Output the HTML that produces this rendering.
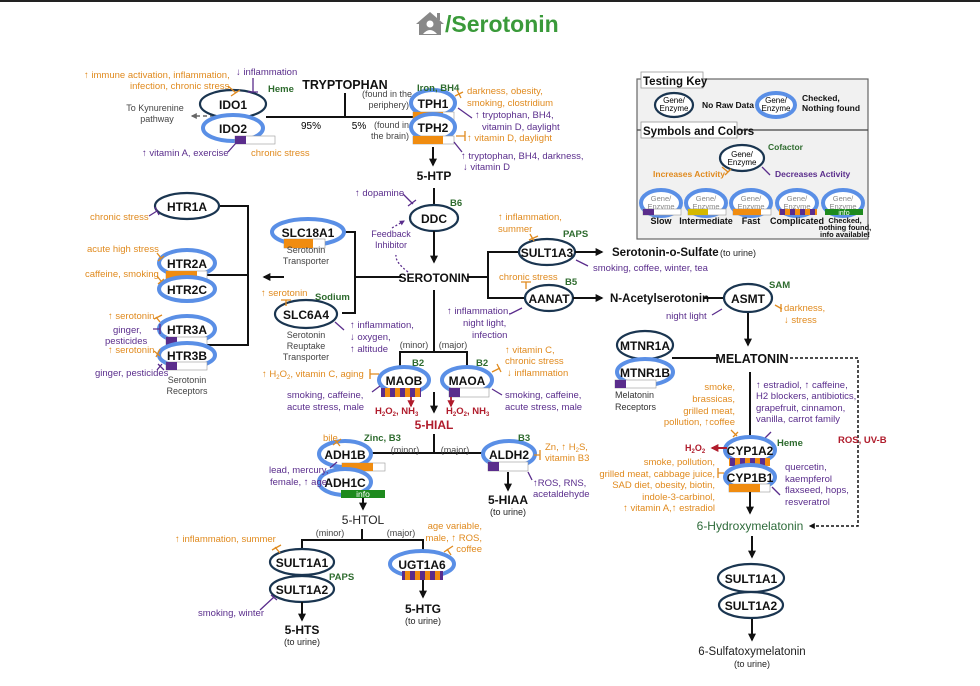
<!DOCTYPE html>
<html><head><meta charset="utf-8"><style>
html,body{margin:0;padding:0;background:#fff}
svg{display:block}
text{font-family:"Liberation Sans",sans-serif}
.n{font-weight:bold;font-size:12px;fill:#111;text-anchor:middle}
.b{font-weight:bold;fill:#111}
.o{fill:#e08a1e;font-size:9.5px}
.p{fill:#5a2d8c;font-size:9.5px}
.g{fill:#2e6b2e;font-size:9.5px;font-weight:bold}
.r{fill:#b01c2c;font-weight:bold}
.s{fill:#444;font-size:9px}
.k{stroke:#1a3550;stroke-width:2.2;fill:#fff}
.u{stroke:#5a8fe6;stroke-width:4;fill:#fff}
.l{stroke:#111;stroke-width:2;fill:none}
.io{stroke:#e08a1e;stroke-width:1.3;fill:none}
.ip{stroke:#5a2d8c;stroke-width:1.3;fill:none}
.m{text-anchor:middle}
.e{text-anchor:end}
</style></head><body>
<svg width="980" height="686" viewBox="0 0 980 686" xmlns="http://www.w3.org/2000/svg">
<defs>
<pattern id="cx" width="10" height="10" patternUnits="userSpaceOnUse"><rect width="5" height="10" fill="#5a2d8c"/><rect x="5" width="5" height="10" fill="#f08c10"/></pattern>
<marker id="a" viewBox="0 0 10 10" refX="8" refY="5" markerWidth="4" markerHeight="4" orient="auto"><path d="M0,0L10,5L0,10z" fill="#111"/></marker>
<marker id="ar" viewBox="0 0 10 10" refX="8" refY="5" markerWidth="4" markerHeight="4" orient="auto"><path d="M0,0L10,5L0,10z" fill="#b01c2c"/></marker>
<marker id="ag" viewBox="0 0 10 10" refX="8" refY="5" markerWidth="4" markerHeight="4" orient="auto"><path d="M0,0L10,5L0,10z" fill="#666"/></marker>
<marker id="ap" viewBox="0 0 10 10" refX="8" refY="5" markerWidth="4" markerHeight="4" orient="auto"><path d="M0,0L10,5L0,10z" fill="#5a2d8c"/></marker>
</defs>
<rect x="0" y="0" width="980" height="2" fill="#222"/>
<!-- title -->
<path d="M416,24 L430,12 L444,24 L441,24 L441,35 L419,35 L419,24Z" fill="#888"/>
<rect x="437" y="13" width="3" height="7" fill="#888"/>
<circle cx="430" cy="24" r="3.5" fill="#fff"/><path d="M423,34 Q430,26 437,34Z" fill="#fff"/>
<text x="445" y="32" style="font-size:23px;font-weight:bold;fill:#3a9a3a">/Serotonin</text>

<!-- Testing key -->
<rect x="637" y="79" width="231" height="160" fill="#f1f1f1" stroke="#666" stroke-width="1.2"/>
<line x1="637" y1="130" x2="868" y2="130" stroke="#444" stroke-width="1.2"/>
<rect x="641" y="72" width="62" height="16" fill="#fff" stroke="#999" stroke-width=".8"/>
<text x="643" y="85" class="b" style="font-size:11.5px">Testing Key</text>
<rect x="641" y="122" width="96" height="16" fill="#fff" stroke="#999" stroke-width=".8"/>
<text x="643" y="135" class="b" style="font-size:11.5px">Symbols and Colors</text>
<ellipse cx="674" cy="105" rx="19" ry="12" class="k" stroke-width="1.8"/>
<text x="674" y="103" class="m" style="font-size:8px">Gene/</text><text x="674" y="111" class="m" style="font-size:8px">Enzyme</text>
<text x="702" y="108" class="b" style="font-size:8.5px">No Raw Data</text>
<ellipse cx="776" cy="105" rx="19" ry="12" class="u" stroke-width="3"/>
<text x="776" y="103" class="m" style="font-size:8px">Gene/</text><text x="776" y="111" class="m" style="font-size:8px">Enzyme</text>
<text x="802" y="101" class="b" style="font-size:8.5px">Checked,</text><text x="802" y="111" class="b" style="font-size:8.5px">Nothing found</text>
<ellipse cx="742" cy="158" rx="22" ry="13" class="k" stroke-width="1.8"/>
<text x="742" y="157" class="m" style="font-size:8px">Gene/</text><text x="742" y="165" class="m" style="font-size:8px">Enzyme</text>
<text x="768" y="150" class="g" style="font-size:8.5px">Cofactor</text>
<path d="M722,167 L728,172 M725,175 L731,169" class="io"/>
<text x="725" y="177" class="e" style="font-size:8.5px;fill:#e08a1e;font-weight:bold">Increases Activity</text>
<path d="M762,167 L770,175" class="ip"/>
<text x="775" y="177" style="font-size:8.5px;fill:#5a2d8c;font-weight:bold">Decreases Activity</text>
<g style="font-size:7.5px;fill:#888">
<ellipse cx="661" cy="203" rx="20" ry="13" class="u" stroke-width="3"/><text x="661" y="201" class="m" fill="#888">Gene/</text><text x="661" y="209" class="m" fill="#888">Enzyme</text>
<ellipse cx="706" cy="203" rx="20" ry="13" class="u" stroke-width="3"/><text x="706" y="201" class="m" fill="#888">Gene/</text><text x="706" y="209" class="m" fill="#888">Enzyme</text>
<ellipse cx="751" cy="203" rx="20" ry="13" class="u" stroke-width="3"/><text x="751" y="201" class="m" fill="#888">Gene/</text><text x="751" y="209" class="m" fill="#888">Enzyme</text>
<ellipse cx="797" cy="203" rx="20" ry="13" class="u" stroke-width="3"/><text x="797" y="201" class="m" fill="#888">Gene/</text><text x="797" y="209" class="m" fill="#888">Enzyme</text>
<ellipse cx="843" cy="203" rx="20" ry="13" class="u" stroke-width="3"/><text x="843" y="201" class="m" fill="#888">Gene/</text><text x="843" y="209" class="m" fill="#888">Enzyme</text>
</g>
<rect x="643" y="209" width="38" height="6" fill="#fff" stroke="#999" stroke-width=".6"/><rect x="643" y="209" width="11" height="6" fill="#5a2d8c"/>
<rect x="688" y="209" width="38" height="6" fill="#fff" stroke="#999" stroke-width=".6"/><rect x="688" y="209" width="20" height="6" fill="#d4b800"/>
<rect x="733" y="209" width="38" height="6" fill="#fff" stroke="#999" stroke-width=".6"/><rect x="733" y="209" width="28" height="6" fill="#f08c10"/>
<rect x="779" y="209" width="38" height="6" fill="url(#cx)"/>
<rect x="825" y="209" width="38" height="6" fill="#1e8a1e"/><text x="844" y="215" class="m" style="font-size:7px;fill:#fff">info</text>
<g class="b" style="font-size:9px"><text x="661" y="224" class="m">Slow</text><text x="706" y="224" class="m">Intermediate</text><text x="751" y="224" class="m">Fast</text><text x="797" y="224" class="m">Complicated</text></g>
<g class="b" style="font-size:7.5px"><text x="845" y="223" class="m">Checked,</text><text x="845" y="230" class="m">nothing found,</text><text x="845" y="237" class="m">info available!</text></g>

<!-- Tryptophan -->
<text x="345" y="89" class="n" style="font-size:12.5px">TRYPTOPHAN</text>
<line x1="345" y1="93" x2="345" y2="117" class="l"/>
<line x1="266" y1="117" x2="413" y2="117" class="l"/>
<text x="311" y="129" class="m" style="font-size:10px">95%</text>
<text x="359" y="129" class="m" style="font-size:10px">5%</text>
<text x="412" y="97" class="s e">(found in the</text><text x="409" y="108" class="s e">periphery)</text>
<text x="409" y="128" class="s e">(found in</text><text x="409" y="139" class="s e">the brain)</text>
<line x1="228" y1="116" x2="192" y2="116" stroke="#666" stroke-width="1.5" stroke-dasharray="4,3" marker-end="url(#ag)"/>
<text x="155" y="111" class="s m">To Kynurenine</text><text x="157" y="122" class="s m">pathway</text>
<ellipse cx="233" cy="104" rx="33" ry="14" class="k"/><text x="233" y="109" class="n">IDO1</text>
<ellipse cx="233" cy="128" rx="30" ry="13" class="u"/><text x="233" y="133" class="n">IDO2</text>
<rect x="235" y="136" width="40" height="8" fill="#fff" stroke="#999" stroke-width=".6"/><rect x="235" y="136" width="11" height="8" fill="#5a2d8c"/>
<text x="268" y="92" class="g">Heme</text>
<text x="84" y="78" class="o">↑ immune activation, inflammation,</text>
<text x="130" y="89" class="o">infection, chronic stress</text>
<path d="M228,86 L236,93 M231,96 L240,90" class="io"/>
<text x="236" y="75" class="p">↓ inflammation</text>
<path d="M253,78 L253,92 M248,92 L258,92" class="ip"/>
<text x="142" y="156" class="p">↑ vitamin A, exercise</text>
<path d="M228,152 L236,143" class="ip"/>
<text x="251" y="156" class="o">chronic stress</text>
<ellipse cx="433" cy="103" rx="22" ry="13" class="u"/><text x="433" y="108" class="n">TPH1</text>
<rect x="413" y="112" width="41" height="8" fill="#fff" stroke="#999" stroke-width=".6"/><rect x="413" y="112" width="30" height="8" fill="#f08c10"/>
<ellipse cx="433" cy="127" rx="22" ry="13" class="u"/><text x="433" y="132" class="n">TPH2</text>
<rect x="413" y="136" width="41" height="8" fill="#fff" stroke="#999" stroke-width=".6"/><rect x="413" y="136" width="30" height="8" fill="#f08c10"/>
<text x="417" y="91" class="g">Iron, BH4</text>
<text x="467" y="94" class="o">darkness, obesity,</text><text x="467" y="106" class="o">smoking, clostridium</text>
<path d="M455,96 L463,92 M457,90 L461,98" class="io"/>
<text x="475" y="118" class="p">↑ tryptophan, BH4,</text><text x="482" y="130" class="p">vitamin D, daylight</text>
<path d="M458,108 L472,118" class="ip"/>
<text x="467" y="141" class="o">↑ vitamin D, daylight</text>
<path d="M456,136 L465,136 M465,131 L465,141" class="io"/>
<text x="461" y="159" class="p">↑ tryptophan, BH4, darkness,</text><text x="463" y="170" class="p">↓ vitamin D</text>
<path d="M454,142 L462,152" class="ip"/>
<line x1="433" y1="147" x2="433" y2="165" class="l" marker-end="url(#a)"/>
<text x="434" y="180" class="n">5-HTP</text>
<line x1="434" y1="188" x2="434" y2="206" class="l"/>
<ellipse cx="434" cy="218" rx="24" ry="13" class="k"/><text x="434" y="223" class="n">DDC</text>
<text x="450" y="206" class="g">B6</text>
<text x="355" y="196" class="p">↑ dopamine</text>
<path d="M403,194 L413,204 M408,206 L416,200" class="ip"/>
<text x="391" y="237" class="p m" style="font-size:9px">Feedback</text><text x="391" y="248" class="p m" style="font-size:9px">Inhibitor</text>
<path d="M408,272 Q395,262 396,255" stroke="#5a2d8c" stroke-width="1.3" fill="none" stroke-dasharray="2,2"/>
<path d="M392,228 L404,221" stroke="#5a2d8c" stroke-width="1.3" fill="none" stroke-dasharray="2,2" marker-end="url(#ap)"/>
<line x1="434" y1="231" x2="434" y2="262" class="l" marker-end="url(#a)"/>
<text x="434" y="282" class="n">SEROTONIN</text>

<!-- Left transporters & receptors -->
<line x1="402" y1="277" x2="355" y2="277" class="l"/>
<path d="M340,232 L355,232 L355,313 L342,313" class="l"/>
<line x1="284" y1="277" x2="264" y2="277" class="l" marker-end="url(#a)"/>
<ellipse cx="308" cy="232" rx="36" ry="13" class="u"/><text x="308" y="237" class="n">SLC18A1</text>
<rect x="284" y="239" width="41" height="9" fill="#fff" stroke="#999" stroke-width=".6"/><rect x="284" y="239" width="29" height="9" fill="#f08c10"/>
<text x="306" y="253" class="s m">Serotonin</text><text x="306" y="264" class="s m">Transporter</text>
<ellipse cx="306" cy="314" rx="31" ry="14" class="k"/><text x="306" y="319" class="n">SLC6A4</text>
<text x="315" y="300" class="g">Sodium</text>
<text x="261" y="296" class="o">↑ serotonin</text>
<path d="M286,300 L286,306 M281,300 L291,300" class="io"/>
<text x="350" y="328" class="p">↑ inflammation,</text><text x="350" y="340" class="p">↓ oxygen,</text><text x="350" y="352" class="p">↑ altitude</text>
<path d="M335,322 L344,330" class="ip"/>
<text x="306" y="338" class="s m">Serotonin</text><text x="306" y="349" class="s m">Reuptake</text><text x="306" y="360" class="s m">Transporter</text>

<path d="M219,206 L248,206 L248,345 L207,345" class="l"/>
<line x1="207" y1="275" x2="248" y2="275" class="l"/>
<ellipse cx="187" cy="206" rx="32" ry="13" class="k"/><text x="187" y="211" class="n">HTR1A</text>
<text x="90" y="220" class="o">chronic stress</text>
<path d="M149,216 L157,211 M155,207 L159,215" class="ip"/>
<ellipse cx="187" cy="263" rx="28" ry="13" class="u"/><text x="187" y="268" class="n">HTR2A</text>
<rect x="166" y="271" width="41" height="8" fill="#fff" stroke="#999" stroke-width=".6"/><rect x="166" y="271" width="31" height="8" fill="#f08c10"/>
<ellipse cx="187" cy="289" rx="28" ry="12" class="u"/><text x="187" y="294" class="n">HTR2C</text>
<text x="87" y="252" class="o">acute high stress</text><path d="M157,253 L161,258 M158,261 L164,256" class="io"/>
<text x="85" y="277" class="o">caffeine, smoking</text><path d="M157,276 L161,281 M158,284 L164,279" class="io"/>
<ellipse cx="187" cy="329" rx="28" ry="13" class="u"/><text x="187" y="334" class="n">HTR3A</text>
<rect x="166" y="337" width="41" height="8" fill="#fff" stroke="#999" stroke-width=".6"/><rect x="166" y="337" width="11" height="8" fill="#5a2d8c"/>
<ellipse cx="187" cy="355" rx="28" ry="12" class="u"/><text x="187" y="360" class="n">HTR3B</text>
<rect x="166" y="362" width="41" height="8" fill="#fff" stroke="#999" stroke-width=".6"/><rect x="166" y="362" width="11" height="8" fill="#5a2d8c"/>
<text x="108" y="319" class="o">↑ serotonin</text><path d="M156,317 L160,322 M154,319 L162,315" class="io"/>
<text x="113" y="333" class="p">ginger,</text><text x="105" y="344" class="p">pesticides</text><path d="M153,329 L160,329 M160,324 L160,334" class="ip"/>
<text x="108" y="353" class="o">↑ serotonin</text><path d="M154,351 L160,356 M156,357 L160,349" class="io"/>
<text x="95" y="376" class="p">ginger, pesticides</text><path d="M158,364 L164,370 M157,370 L162,364" class="ip"/>
<text x="187" y="383" class="s m">Serotonin</text><text x="187" y="394" class="s m">Receptors</text>

<!-- right branch -->
<path d="M467,277 L488,277 L488,252 L520,252 M488,277 L488,298 L525,298" class="l"/>
<ellipse cx="547" cy="252" rx="28" ry="13" class="k"/><text x="547" y="257" class="n">SULT1A3</text>
<text x="563" y="237" class="g">PAPS</text>
<text x="498" y="220" class="o">↑ inflammation,</text><text x="498" y="232" class="o">summer</text>
<path d="M530,234 L534,241 M529,240 L538,236" class="io"/>
<line x1="575" y1="252" x2="602" y2="252" class="l" marker-end="url(#a)"/>
<text x="612" y="256" class="b" style="font-size:11.5px">Serotonin-o-Sulfate</text>
<text x="720" y="256" style="font-size:9px;fill:#222">(to urine)</text>
<text x="593" y="271" class="p">smoking, coffee, winter, tea</text>
<path d="M576,260 L588,266" class="ip"/>
<ellipse cx="549" cy="298" rx="24" ry="13" class="k"/><text x="549" y="303" class="n">AANAT</text>
<text x="565" y="285" class="g">B5</text>
<text x="499" y="280" class="o">chronic stress</text>
<path d="M526,282 L526,289 M521,282 L531,282" class="io"/>
<text x="447" y="314" class="p">↑ inflammation,</text><text x="463" y="326" class="p">night light,</text><text x="472" y="338" class="p">infection</text>
<path d="M510,314 L522,308" class="ip"/>
<line x1="573" y1="298" x2="602" y2="298" class="l" marker-end="url(#a)"/>
<text x="610" y="302" class="b" style="font-size:11.5px">N-Acetylserotonin</text>
<line x1="704" y1="298" x2="724" y2="298" class="l"/>
<ellipse cx="748" cy="298" rx="24" ry="14" class="k"/><text x="748" y="303" class="n">ASMT</text>
<text x="769" y="288" class="g">SAM</text>
<text x="784" y="311" class="o">darkness,</text><text x="784" y="323" class="o">↓ stress</text>
<path d="M775,305 L782,309 M781,304 L781,312" class="io"/>
<text x="666" y="319" class="p">night light</text>
<path d="M712,315 L722,309" class="ip"/>
<line x1="748" y1="313" x2="748" y2="345" class="l" marker-end="url(#a)"/>
<text x="752" y="363" class="n" style="font-size:12.5px">MELATONIN</text>
<line x1="672" y1="358" x2="718" y2="358" class="l"/>
<ellipse cx="645" cy="345" rx="28" ry="14" class="k"/><text x="645" y="350" class="n">MTNR1A</text>
<ellipse cx="645" cy="372" rx="28" ry="13" class="u"/><text x="645" y="377" class="n">MTNR1B</text>
<rect x="615" y="380" width="41" height="8" fill="#fff" stroke="#999" stroke-width=".6"/><rect x="615" y="380" width="11" height="8" fill="#5a2d8c"/>
<text x="615" y="398" style="font-size:9px;fill:#333">Melatonin</text><text x="615" y="410" style="font-size:9px;fill:#333">Receptors</text>
<path d="M790,358 L858,358 L858,526 L810,526" stroke="#111" stroke-width="1.5" fill="none" stroke-dasharray="3,2" marker-end="url(#a)"/>
<text x="838" y="443" class="r" style="font-size:9.5px">ROS, UV-B</text>
<line x1="750" y1="372" x2="750" y2="438" class="l"/>
<g class="o"><text x="735" y="390" class="e">smoke,</text><text x="735" y="402" class="e">brassicas,</text><text x="735" y="414" class="e">grilled meat,</text><text x="735" y="425" class="e">pollution, ↑coffee</text></g>
<path d="M731,430 L737,436 M733,437 L738,432" class="io"/>
<g class="p"><text x="756" y="388" >↑ estradiol, ↑ caffeine,</text><text x="756" y="399">H2 blockers, antibiotics,</text><text x="756" y="411">grapefruit, cinnamon,</text><text x="756" y="422">vanilla, carrot family</text></g>
<path d="M771,432 L765,438" class="ip"/>
<ellipse cx="750" cy="450" rx="25" ry="13" class="u"/><text x="750" y="455" class="n">CYP1A2</text>
<rect x="729" y="458" width="41" height="8" fill="url(#cx)"/>
<text x="777" y="446" class="g">Heme</text>
<line x1="727" y1="448" x2="712" y2="448" stroke="#b01c2c" stroke-width="2" marker-end="url(#ar)"/>
<text x="685" y="451" class="r" style="font-size:9px">H<tspan font-size="6" dy="2">2</tspan><tspan dy="-2">O</tspan><tspan font-size="6" dy="2">2</tspan></text>
<ellipse cx="750" cy="477" rx="25" ry="12" class="u"/><text x="750" y="482" class="n">CYP1B1</text>
<rect x="729" y="484" width="41" height="8" fill="#fff" stroke="#999" stroke-width=".6"/><rect x="729" y="484" width="31" height="8" fill="#f08c10"/>
<g class="o"><text x="715" y="465" class="e">smoke, pollution,</text><text x="715" y="477" class="e">grilled meat, cabbage juice,</text><text x="715" y="488" class="e">SAD diet, obesity, biotin,</text><text x="715" y="500" class="e">indole-3-carbinol,</text><text x="715" y="511" class="e">↑ vitamin A,↑ estradiol</text></g>
<path d="M718,473 L724,473 M718,468 L718,478" class="io"/>
<g class="p"><text x="785" y="470">quercetin,</text><text x="785" y="482">kaempferol</text><text x="785" y="493">flaxseed, hops,</text><text x="785" y="505">resveratrol</text></g>
<path d="M772,487 L780,495" class="ip"/>
<line x1="750" y1="492" x2="750" y2="513" class="l" marker-end="url(#a)"/>
<text x="750" y="530" class="m" style="font-size:12px;fill:#2e6b3a">6-Hydroxymelatonin</text>
<line x1="752" y1="536" x2="752" y2="557" class="l" marker-end="url(#a)"/>
<ellipse cx="751" cy="578" rx="33" ry="14" class="k"/><text x="751" y="583" class="n">SULT1A1</text>
<ellipse cx="751" cy="605" rx="32" ry="13" class="k"/><text x="751" y="610" class="n">SULT1A2</text>
<line x1="752" y1="619" x2="752" y2="640" class="l" marker-end="url(#a)"/>
<text x="752" y="655" class="m" style="font-size:11.5px;fill:#222">6-Sulfatoxymelatonin</text>
<text x="752" y="667" class="m" style="font-size:9px;fill:#222">(to urine)</text>

<!-- MAO -->
<line x1="434" y1="290" x2="434" y2="352" class="l"/>
<path d="M400,368 L400,352 L467,352 L467,368" class="l"/>
<text x="414" y="348" class="s m">(minor)</text><text x="453" y="348" class="s m">(major)</text>
<ellipse cx="404" cy="380" rx="25" ry="13" class="u"/><text x="404" y="385" class="n">MAOB</text>
<rect x="381" y="388" width="40" height="9" fill="url(#cx)"/>
<text x="412" y="366" class="g">B2</text>
<ellipse cx="467" cy="380" rx="25" ry="13" class="u"/><text x="467" y="385" class="n">MAOA</text>
<rect x="449" y="388" width="40" height="9" fill="#fff" stroke="#999" stroke-width=".6"/><rect x="449" y="388" width="11" height="9" fill="#5a2d8c"/>
<text x="476" y="366" class="g">B2</text>
<text x="262" y="377" class="o">↑ H<tspan font-size="6" dy="2">2</tspan><tspan dy="-2">O</tspan><tspan font-size="6" dy="2">2</tspan><tspan dy="-2">, vitamin C, aging</tspan></text>
<path d="M370,374 L379,374 M370,369 L370,379" class="io"/>
<text x="287" y="398" class="p">smoking, caffeine,</text><text x="287" y="410" class="p">acute stress, male</text>
<path d="M372,392 L380,386" class="ip"/>
<text x="505" y="353" class="o">↑ vitamin C,</text><text x="505" y="364" class="o">chronic stress</text><text x="507" y="376" class="o">↓ inflammation</text>
<path d="M492,372 L500,368 M497,364 L501,372" class="io"/>
<text x="505" y="398" class="p">smoking, caffeine,</text><text x="505" y="410" class="p">acute stress, male</text>
<path d="M492,389 L502,395" class="ip"/>
<line x1="411" y1="397" x2="411" y2="406" stroke="#b01c2c" stroke-width="1.8" marker-end="url(#ar)"/>
<line x1="451" y1="397" x2="451" y2="406" stroke="#b01c2c" stroke-width="1.8" marker-end="url(#ar)"/>
<text x="375" y="414" class="r" style="font-size:9.5px">H<tspan font-size="6" dy="2">2</tspan><tspan dy="-2">O</tspan><tspan font-size="6" dy="2">2</tspan><tspan dy="-2">, NH</tspan><tspan font-size="6" dy="2">3</tspan></text>
<text x="446" y="414" class="r" style="font-size:9.5px">H<tspan font-size="6" dy="2">2</tspan><tspan dy="-2">O</tspan><tspan font-size="6" dy="2">2</tspan><tspan dy="-2">, NH</tspan><tspan font-size="6" dy="2">3</tspan></text>
<line x1="434" y1="392" x2="434" y2="412" class="l" marker-end="url(#a)"/>
<text x="434" y="429" class="r m" style="font-size:12px">5-HIAL</text>

<!-- ADH / ALDH -->
<line x1="434" y1="434" x2="434" y2="453" class="l"/>
<line x1="370" y1="453" x2="484" y2="453" class="l"/>
<text x="405" y="453" class="s m">(minor)</text><text x="455" y="453" class="s m">(major)</text>
<ellipse cx="345" cy="454" rx="26" ry="13" class="u"/><text x="345" y="459" class="n">ADH1B</text>
<rect x="342" y="463" width="43" height="8" fill="#fff" stroke="#999" stroke-width=".6"/><rect x="342" y="463" width="31" height="8" fill="#f08c10"/>
<text x="364" y="441" class="g">Zinc, B3</text>
<text x="323" y="441" class="o">bile</text><path d="M335,440 L340,446 M333,445 L341,439" class="io"/>
<ellipse cx="345" cy="482" rx="26" ry="13" class="u"/><text x="345" y="487" class="n">ADH1C</text>
<rect x="341" y="490" width="44" height="8" fill="#1e8a1e"/><text x="363" y="497" class="m" style="font-size:8.5px;fill:#fff">info</text>
<text x="269" y="473" class="p">lead, mercury,</text><text x="270" y="485" class="p">female, ↑ age</text>
<path d="M330,468 L337,462" class="ip"/>
<line x1="363" y1="498" x2="363" y2="509" class="l" marker-end="url(#a)"/>
<text x="363" y="524" class="m" style="font-size:12px;fill:#222">5-HTOL</text>
<ellipse cx="509" cy="454" rx="26" ry="13" class="u"/><text x="509" y="459" class="n">ALDH2</text>
<rect x="488" y="462" width="40" height="9" fill="#fff" stroke="#999" stroke-width=".6"/><rect x="488" y="462" width="11" height="9" fill="#5a2d8c"/>
<text x="518" y="441" class="g">B3</text>
<text x="545" y="450" class="o">Zn, ↑ H<tspan font-size="6" dy="2">2</tspan><tspan dy="-2">S,</tspan></text><text x="545" y="461" class="o">vitamin B3</text>
<path d="M534,455 L540,455 M540,450 L540,460" class="io"/>
<text x="533" y="486" class="p">↑ROS, RNS,</text><text x="533" y="497" class="p">acetaldehyde</text>
<path d="M528,472 L532,480" class="ip"/>
<line x1="508" y1="472" x2="508" y2="490" class="l" marker-end="url(#a)"/>
<text x="508" y="504" class="n">5-HIAA</text>
<text x="508" y="515" class="m" style="font-size:9px;fill:#222">(to urine)</text>

<!-- 5-HTOL branch -->
<line x1="362" y1="529" x2="362" y2="540" class="l"/>
<path d="M302,548 L302,540 L423,540 L423,551" class="l"/>
<text x="330" y="536" class="s m">(minor)</text><text x="401" y="536" class="s m">(major)</text>
<ellipse cx="302" cy="562" rx="32" ry="13" class="k"/><text x="302" y="567" class="n">SULT1A1</text>
<ellipse cx="302" cy="589" rx="32" ry="13" class="k"/><text x="302" y="594" class="n">SULT1A2</text>
<text x="329" y="580" class="g">PAPS</text>
<text x="175" y="542" class="o">↑ inflammation, summer</text>
<path d="M275,547 L280,553 M272,550 L281,545" class="io"/>
<text x="198" y="616" class="p">smoking, winter</text>
<path d="M260,610 L274,597 M271,595 L277,600" class="ip"/>
<line x1="302" y1="602" x2="302" y2="620" class="l" marker-end="url(#a)"/>
<text x="302" y="634" class="n">5-HTS</text>
<text x="302" y="645" class="m" style="font-size:9px;fill:#222">(to urine)</text>
<ellipse cx="422" cy="564" rx="32" ry="13" class="u"/><text x="422" y="569" class="n">UGT1A6</text>
<rect x="402" y="571" width="41" height="9" fill="url(#cx)"/>
<g class="o"><text x="482" y="529" class="e">age variable,</text><text x="482" y="541" class="e">male, ↑ ROS,</text><text x="482" y="552" class="e">coffee</text></g>
<path d="M447,549 L451,555 M444,552 L453,546" class="io"/>
<line x1="423" y1="580" x2="423" y2="597" class="l" marker-end="url(#a)"/>
<text x="423" y="613" class="n">5-HTG</text>
<text x="423" y="624" class="m" style="font-size:9px;fill:#222">(to urine)</text>
</svg>
</body></html>
